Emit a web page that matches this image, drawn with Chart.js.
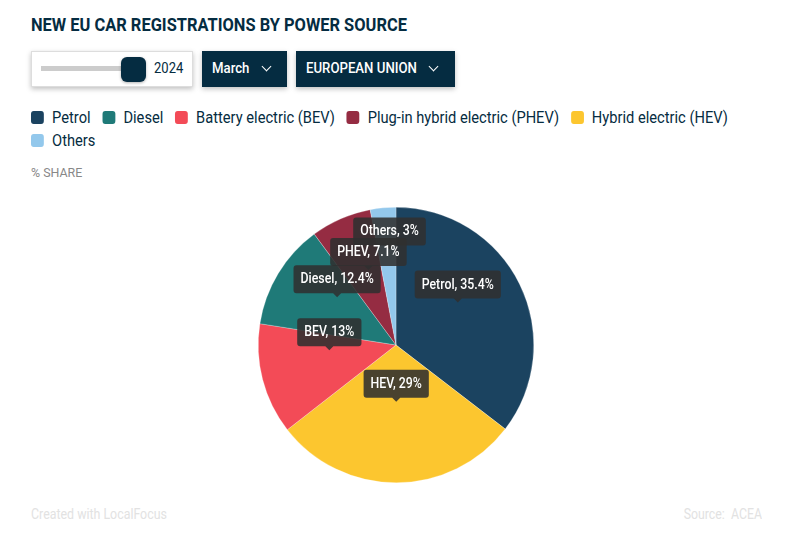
<!DOCTYPE html>
<html lang="en">
<head>
  <meta charset="UTF-8">
  <title>New EU car registrations by power source</title>
  <script src="https://cdn.jsdelivr.net/npm/chart.js"></script>
  <style>
    html, body { margin: 0; height: 100%; overflow: hidden; background: #fff; }
    body { width: 800px; height: 555px; position: relative; font-family: Roboto, Arial, sans-serif; color: #052c41; }
    .abs { position: absolute; white-space: nowrap; transform-origin: left center; }
    #title { left: 31px; top: 14px; font-size: 18px; line-height: 22px; font-weight: 700; transform: scaleX(0.913); }
    #sliderBox { position: absolute; left: 31px; top: 51px; width: 160px; height: 34px; border: 1px solid #ddd; box-shadow: 0 2px 5px rgba(0,0,0,.25); }
    #track { position: absolute; left: 41px; top: 66px; width: 82px; height: 5px; background: #ccc; }
    #handle { position: absolute; left: 121px; top: 57px; width: 25px; height: 25px; border-radius: 6px; background: #052c41; box-shadow: 0 1px 3px rgba(0,0,0,.3); }
    #year { left: 154px; top: 60px; font-size: 14px; line-height: 16px; transform: scaleX(.93); }
    .btn { position: absolute; top: 51px; height: 36px; background: #052c41; box-shadow: 0 2px 5px rgba(0,0,0,.25); }
    .btn span { position: absolute; left: 10px; top: 9px; color: #fff; font-size: 14.5px; font-weight: 500; line-height: 17px; white-space: nowrap; transform: scaleX(.91); transform-origin: left center; }
    .btn i { position: absolute; top: 12px; width: 6px; height: 6px; border-right: 1.6px solid #fff; border-bottom: 1.6px solid #fff; transform: rotate(45deg); }
    #legend { position: absolute; left: 31px; top: 106px; width: 780px; display: flex; flex-wrap: wrap; font-size: 16px; line-height: 23px; transform: scaleX(.917); transform-origin: left top; }
    #legend div { display: flex; align-items: center; margin-right: 12.8px; }
    #legend b { display: block; width: 14.2px; height: 13px; border-radius: 3px; margin-right: 8.8px; }
    #unit { left: 31px; top: 165px; font-size: 13px; line-height: 15px; color: #888; transform: scaleX(.955); }
    #credit { left: 31px; top: 506px; font-size: 14px; line-height: 16px; color: #e2e2e2; transform: scaleX(.885); }
    #source { right: 38px; top: 506px; font-size: 14px; line-height: 16px; color: #e2e2e2; transform: scaleX(.88); transform-origin: right center; }
    #pie { position: absolute; left: 246px; top: 195px; }
  </style>
</head>
<body>
  <div class="abs" id="title">NEW EU CAR REGISTRATIONS BY POWER SOURCE</div>

  <div id="sliderBox"></div>
  <div id="track"></div>
  <div id="handle"></div>
  <div class="abs" id="year">2024</div>
  <div class="btn" style="left:202px;width:85px"><span>March</span><i style="left:61px"></i></div>
  <div class="btn" style="left:296px;width:159px"><span>EUROPEAN UNION</span><i style="left:134px"></i></div>

  <div id="legend"></div>
  <div class="abs" id="unit">% SHARE</div>

  <canvas id="pie" width="300" height="300" style="width:300px;height:300px"></canvas>

  <div class="abs" id="credit">Created with LocalFocus</div>
  <div class="abs" id="source">Source:&nbsp; ACEA</div>

  <script>
    const legendNames = ['Petrol', 'Diesel', 'Battery electric (BEV)', 'Plug-in hybrid electric (PHEV)', 'Hybrid electric (HEV)', 'Others'];
    const legendColors = ['#1b4360', '#1f7a78', '#f34b57', '#952c42', '#fcc62f', '#93c8ec'];

    // pie runs clockwise from 12 o'clock
    const sliceLabels = ['Petrol', 'HEV', 'BEV', 'Diesel', 'PHEV', 'Others'];
    const sliceValues = [35.4, 29, 13, 12.4, 7.1, 3];
    const sliceColors = ['#1b4360', '#fcc62f', '#f34b57', '#1f7a78', '#952c42', '#93c8ec'];

    const legend = document.getElementById('legend');
    legendNames.forEach((name, i) => {
      const item = document.createElement('div');
      const box = document.createElement('b');
      box.style.background = legendColors[i];
      item.appendChild(box);
      item.appendChild(document.createTextNode(name));
      legend.appendChild(item);
    });

    // always-on labels, like the tooltips in the original
    const bubbles = {
      id: 'bubbles',
      afterDatasetsDraw(chart) {
        const ctx = chart.ctx;
        const arcs = chart.getDatasetMeta(0).data;
        // drawn last to first so PHEV sits on top of Others
        for (let i = arcs.length - 1; i >= 0; i--) {
          const p = arcs[i].getCenterPoint();
          const text = sliceLabels[i] + ', ' + sliceValues[i] + '%';
          // the last label is pushed up so it clears its neighbour
          const tipY = p.y - 12 - (i === arcs.length - 1 ? 15 : 0);
          ctx.save();
          ctx.font = '500 14px Roboto, Arial, sans-serif';
          const w = ctx.measureText(text).width * 0.88 + 14;
          const h = 28;
          const top = tipY - 4 - h;
          ctx.fillStyle = 'rgba(48,48,48,0.88)';
          ctx.beginPath();
          ctx.roundRect(p.x - w / 2, top, w, h, 3);
          ctx.moveTo(p.x - 4, top + h);
          ctx.lineTo(p.x, tipY);
          ctx.lineTo(p.x + 4, top + h);
          ctx.fill();
          ctx.translate(p.x, top + h / 2 + 0.5);
          ctx.scale(0.88, 1);
          ctx.fillStyle = '#fff';
          ctx.textAlign = 'center';
          ctx.textBaseline = 'middle';
          ctx.fillText(text, 0, 0);
          ctx.restore();
        }
      }
    };

    new Chart(document.getElementById('pie').getContext('2d'), {
      type: 'pie',
      data: {
        labels: sliceLabels,
        datasets: [{
          data: sliceValues,
          backgroundColor: sliceColors,
          borderColor: 'rgba(255,255,255,0.5)',
          borderWidth: 0.5
        }]
      },
      options: {
        responsive: false,
        animation: false,
        layout: { padding: 12 },
        events: [],
        plugins: { legend: { display: false }, tooltip: { enabled: false } }
      },
      plugins: [bubbles]
    });
  </script>
</body>
</html>
